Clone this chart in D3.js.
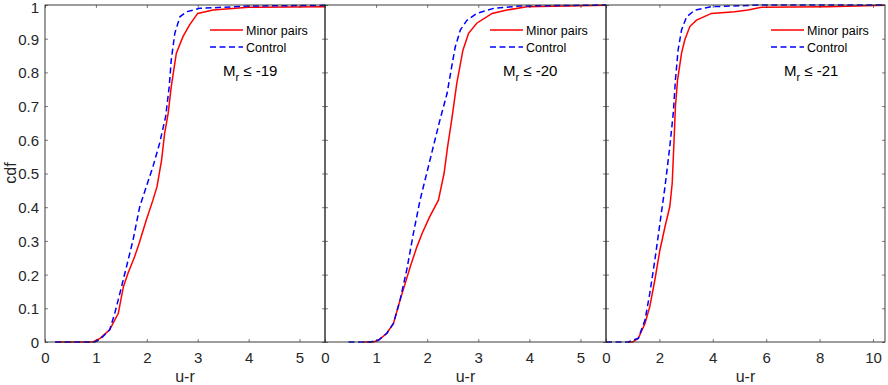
<!DOCTYPE html>
<html>
<head>
<meta charset="utf-8">
<script src="https://cdn.jsdelivr.net/npm/d3@7"></script>
<style>
  html, body { margin: 0; padding: 0; background: #fff; }
  svg { display: block; font-family: "Liberation Sans", Arial, Helvetica, sans-serif; }
</style>
</head>
<body>
<svg id="chart" width="888" height="385"></svg>
<script>
// ---- data ----
const panelTitles = ["-19", "-20", "-21"];
const seriesNames = ["Minor pairs", "Control"];
const yTicks = [0, 0.1, 0.2, 0.3, 0.4, 0.5, 0.6, 0.7, 0.8, 0.9, 1];
const yTickLabels = ["0", "0.1", "0.2", "0.3", "0.4", "0.5", "0.6", "0.7", "0.8", "0.9", "1"];
const xTicksA = [0, 1, 2, 3, 4, 5];
const xTicksB = [0, 2, 4, 6, 8, 10];
const xMaxes = [5.5, 5.5, 10.45];

// Mr <= -19
const minor19 = [[0.2,0],[0.94,0],[1.08,0.011],[1.27,0.036],[1.44,0.085],[1.54,0.164],[1.63,0.204],[1.76,0.253],[1.85,0.293],[1.99,0.362],[2.12,0.421],[2.20,0.461],[2.29,0.54],[2.35,0.619],[2.42,0.679],[2.48,0.758],[2.58,0.857],[2.71,0.906],[2.84,0.941],[3.0,0.975],[3.3,0.985],[4.0,0.993],[5.5,0.995]];
const control19 = [[0.2,0],[0.98,0],[1.08,0.008],[1.27,0.036],[1.37,0.085],[1.47,0.144],[1.60,0.223],[1.73,0.303],[1.86,0.401],[1.99,0.461],[2.12,0.52],[2.25,0.589],[2.37,0.669],[2.44,0.758],[2.48,0.837],[2.55,0.916],[2.65,0.965],[2.78,0.98],[3.04,0.99],[4.0,0.997],[5.5,0.999]];
// Mr <= -20
const minor20 = [[0.75,0],[0.95,0],[1.05,0.006],[1.21,0.026],[1.34,0.055],[1.47,0.125],[1.57,0.174],[1.67,0.224],[1.80,0.283],[1.90,0.322],[2.05,0.372],[2.22,0.421],[2.33,0.50],[2.40,0.58],[2.48,0.659],[2.58,0.768],[2.70,0.866],[2.81,0.916],[2.97,0.946],[3.27,0.975],[3.56,0.985],[3.95,0.995],[5.5,0.999]];
const control20 = [[0.46,0],[0.88,0],[1.05,0.006],[1.21,0.026],[1.34,0.055],[1.47,0.125],[1.60,0.214],[1.73,0.322],[1.86,0.421],[1.99,0.50],[2.12,0.58],[2.25,0.659],[2.39,0.738],[2.48,0.817],[2.55,0.876],[2.65,0.926],[2.78,0.955],[2.97,0.975],[3.30,0.99],[3.82,0.997],[5.5,1.0]];
// Mr <= -21
const minor21 = [[0.82,0],[1.0,0],[1.21,0.011],[1.46,0.055],[1.64,0.105],[1.83,0.184],[2.02,0.273],[2.21,0.342],[2.39,0.402],[2.48,0.471],[2.55,0.60],[2.60,0.698],[2.68,0.777],[2.83,0.857],[2.95,0.896],[3.14,0.936],[3.39,0.955],[3.95,0.975],[4.82,0.98],[5.32,0.985],[5.82,0.993],[8.3,0.995],[10.45,0.999]];
const control21 = [[0,0],[0.83,0],[1.21,0.011],[1.46,0.065],[1.64,0.144],[1.83,0.243],[2.02,0.352],[2.21,0.461],[2.39,0.58],[2.52,0.679],[2.60,0.777],[2.70,0.866],[2.83,0.926],[3.02,0.965],[3.33,0.985],[3.95,0.995],[5.82,1.0],[10.45,1.0]];

const minorSets = [minor19, minor20, minor21];
const controlSets = [control19, control20, control21];
const xTickSets = [xTicksA, xTicksA, xTicksB];

// ---- layout ----
const panelLefts = [45, 325, 606];
const panelRights = [325, 606, 885];
const plotTop = 5, plotBottom = 342;
const axisColor = "#262626";
const tickFont = 15;
const legendFont = 12.5;
const labelFont = 16;

const svg = d3.select("#chart");
const y = d3.scaleLinear().domain([0, 1]).range([plotBottom, plotTop]);

panelTitles.forEach((title, i) => {
  const L = panelLefts[i], R = panelRights[i];
  const x = d3.scaleLinear().domain([0, xMaxes[i]]).range([L, R]);
  const g = svg.append("g");

  const clipId = "clip" + i;
  svg.append("clipPath").attr("id", clipId)
    .append("rect").attr("x", L).attr("y", plotTop - 2).attr("width", R - L).attr("height", plotBottom - plotTop + 4);

  // lines
  const line = d3.line().x(d => x(d[0])).y(d => y(d[1]));
  const lg = g.append("g").attr("clip-path", `url(#${clipId})`);
  lg.append("path").datum(minorSets[i]).attr("d", line)
    .attr("fill", "none").attr("stroke", "#ff0000").attr("stroke-width", 1.5);
  lg.append("path").datum(controlSets[i]).attr("d", line)
    .attr("fill", "none").attr("stroke", "#0000ff").attr("stroke-width", 1.5)
    .attr("stroke-dasharray", "6,3.5");

  // axes (inward ticks)
  const styleAxis = sel => {
    sel.select(".domain").remove();
    sel.selectAll(".tick line").attr("stroke", axisColor).attr("stroke-width", 0.6);
    sel.selectAll(".tick text").attr("fill", axisColor).style("font-size", tickFont + "px")
      .style("font-family", '"Liberation Sans", Arial, Helvetica, sans-serif');
  };
  const xb = g.append("g").attr("transform", `translate(0,${plotBottom})`)
    .call(d3.axisBottom(x).tickValues(xTickSets[i]).tickFormat(d3.format("d")).tickSizeInner(-3).tickSizeOuter(0).tickPadding(10));
  styleAxis(xb);
  const xt = g.append("g").attr("transform", `translate(0,${plotTop})`)
    .call(d3.axisTop(x).tickValues(xTickSets[i]).tickFormat("").tickSizeInner(-3).tickSizeOuter(0));
  styleAxis(xt);
  const yl = g.append("g").attr("transform", `translate(${L},0)`)
    .call(d3.axisLeft(y).tickValues(yTicks)
      .tickFormat(i === 0 ? ((d, k) => yTickLabels[k]) : "")
      .tickSizeInner(-3).tickSizeOuter(0).tickPadding(6));
  styleAxis(yl);
  yl.selectAll(".tick text").attr("dy", d => d === 1 ? "0.5em" : "0.36em");
  const yr = g.append("g").attr("transform", `translate(${R},0)`)
    .call(d3.axisRight(y).tickValues(yTicks).tickFormat("").tickSizeInner(-3).tickSizeOuter(0));
  styleAxis(yr);

  // box
  g.append("rect").attr("x", L).attr("y", plotTop).attr("width", R - L).attr("height", plotBottom - plotTop)
    .attr("fill", "none").attr("stroke", axisColor).attr("stroke-width", 0.9);

  // x label
  g.append("text").attr("x", (L + R) / 2).attr("y", 382).attr("text-anchor", "middle")
    .attr("fill", axisColor).style("font-size", labelFont + "px").text("u-r");

  // legend
  const lx = L + 165;
  const colors = ["#ff0000", "#0000ff"];
  const dashes = [null, "6,3.5"];
  const rowsY = [30, 47];
  seriesNames.forEach((name, k) => {
    g.append("line").attr("x1", lx).attr("x2", lx + 33).attr("y1", rowsY[k]).attr("y2", rowsY[k])
      .attr("stroke", colors[k]).attr("stroke-width", 1.5).attr("stroke-dasharray", dashes[k]);
    g.append("text").attr("x", lx + 36).attr("y", rowsY[k] + 4.5).attr("fill", "#000")
      .style("font-size", legendFont + "px").text(name);
  });

  // M_r annotation
  const t = g.append("text").attr("x", L + 178).attr("y", 76).attr("fill", "#000")
    .style("font-size", "15px");
  t.append("tspan").text("M");
  t.append("tspan").attr("dy", 5).style("font-size", "11px").text("r");
  t.append("tspan").attr("dy", -5).text(" \u2264 " + title);
});

// y label
svg.append("text").attr("transform", "translate(16,173) rotate(-90)").attr("text-anchor", "middle")
  .attr("fill", axisColor).style("font-size", labelFont + "px").text("cdf");
</script>
</body>
</html>
